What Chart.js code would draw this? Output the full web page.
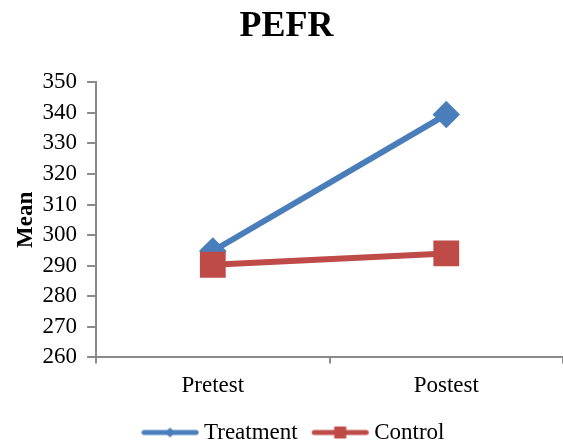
<!DOCTYPE html>
<html>
<head>
<meta charset="utf-8">
<script src="https://cdn.jsdelivr.net/npm/chart.js@4.4.0/dist/chart.umd.min.js"></script>
<style>
  html,body{margin:0;padding:0;background:#fff;}
  #wrap{width:563px;height:444px;}
</style>
</head>
<body>
<div id="wrap"><canvas id="myChart" width="563" height="444"></canvas></div>
<script>
'use strict';
let categories=['Pretest','Postest'];
let treatmentValues=[294.8,339.4];
let controlValues=[290.3,294.0];
let yTicks=[260,350,10];
let seriesNames=['Treatment','Control'];

let blue='#4A7EBB';
let red='#BE4B48';
let axisGray='#8a8a8a';
let serif='"Liberation Serif", "Times New Roman", serif';

// little legend sample: thick line with the marker in the middle
// (image is wider on the right so the line runs close to the text)
function makeSample(color,shape){
  let c=document.createElement('canvas');
  c.width=64;
  c.height=20;
  let g=c.getContext('2d');
  g.strokeStyle=color;
  g.lineWidth=5;
  g.lineCap='round';
  g.beginPath();
  g.moveTo(8.5,10);
  g.lineTo(60.5,10);
  g.stroke();
  g.fillStyle=color;
  let m=34.5;
  if(shape==='diamond'){
    g.beginPath();
    g.moveTo(m,5);
    g.lineTo(m+5,10);
    g.lineTo(m,15);
    g.lineTo(m-5,10);
    g.closePath();
    g.fill();
  }else{
    g.fillRect(m-6,4,12,12);
  }
  return c;
}
let samples=[makeSample(blue,'diamond'),makeSample(red,'square')];

Chart.defaults.font.family=serif;
Chart.defaults.color='#000';

let legendShift={
  id:'legendShift',
  afterLayout:function(chart){
    chart.legend.left+=7;
    chart.legend.right+=7;
  }
};

let ctx=document.getElementById('myChart');
let myChart=new Chart(ctx,{
  type:'line',
  data:{
    labels:categories,
    datasets:[{
      label:seriesNames[0],
      data:treatmentValues,
      borderColor:blue,
      backgroundColor:blue,
      borderWidth:6,
      pointStyle:'rectRot',
      pointRadius:9.5,
      pointHoverRadius:9.5,
      order:1
    },{
      label:seriesNames[1],
      data:controlValues,
      borderColor:red,
      backgroundColor:red,
      borderWidth:6,
      pointStyle:'rect',
      pointRadius:14,
      pointHoverRadius:14,
      order:0
    }]
  },
  plugins:[legendShift],
  options:{
    responsive:false,
    animation:false,
    layout:{autoPadding:false,padding:{left:10,right:0,top:0,bottom:-10}},
    plugins:{
      title:{
        display:true,
        text:'PEFR',
        font:{size:36,weight:'bold',family:serif},
        color:'#000',
        padding:{top:5,bottom:34}
      },
      legend:{
        position:'bottom',
        labels:{
          usePointStyle:true,
          pointStyleWidth:50,
          padding:15,
          font:{size:23,family:serif},
          color:'#000',
          generateLabels:function(chart){
            return chart.data.datasets.map(function(ds,i){
              return {
                text:ds.label,
                pointStyle:samples[i],
                fillStyle:ds.borderColor,
                strokeStyle:ds.borderColor,
                lineWidth:0,
                datasetIndex:i,
                hidden:false
              };
            });
          }
        }
      },
      tooltip:{enabled:false}
    },
    scales:{
      x:{
        offset:true,
        grid:{display:true,offset:true,drawOnChartArea:false,drawTicks:true,tickLength:6,color:axisGray,lineWidth:2},
        border:{color:axisGray,width:2},
        ticks:{font:{size:23,family:serif},color:'#000',padding:9},
        afterFit:function(scale){
          scale.paddingLeft=0;
          scale.paddingRight=0;
          scale.height-=3;
        }
      },
      y:{
        min:yTicks[0],
        max:yTicks[1],
        grid:{display:true,drawOnChartArea:false,drawTicks:true,tickLength:9,color:axisGray,lineWidth:2},
        border:{color:axisGray,width:2},
        ticks:{stepSize:yTicks[2],autoSkip:false,font:{size:23,family:serif},color:'#000',padding:10},
        title:{display:true,text:'Mean',font:{size:23,weight:'bold',family:serif},color:'#000',padding:{top:2,bottom:4}},
        afterFit:function(scale){
          scale.width-=11;
        }
      }
    }
  }
});
</script>
</body>
</html>
